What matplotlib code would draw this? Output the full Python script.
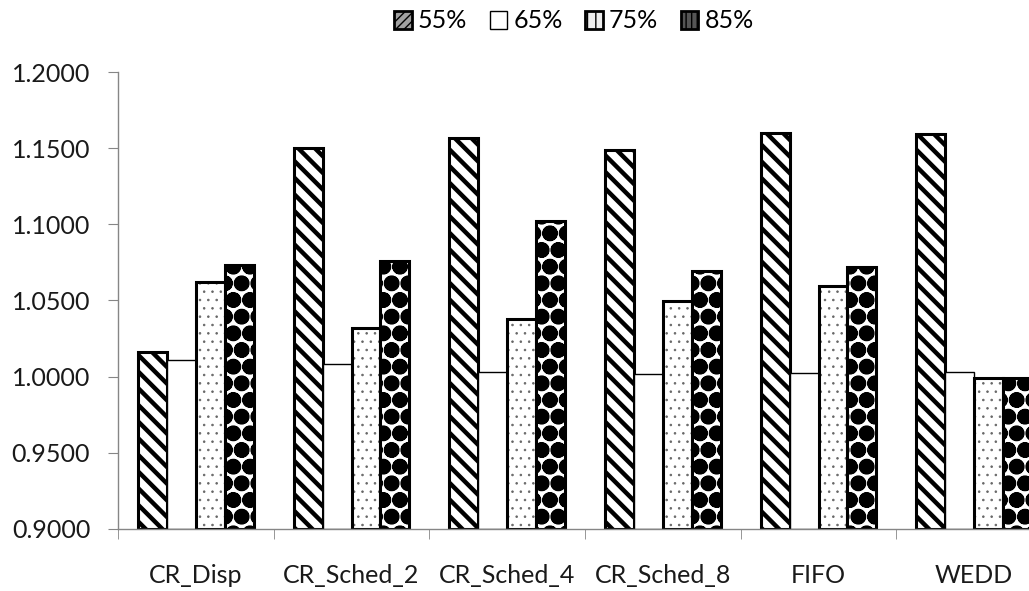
import numpy as np
import matplotlib
matplotlib.use('Agg')
import matplotlib.pyplot as plt
from matplotlib.patches import Patch

categories = ['CR_Disp', 'CR_Sched_2', 'CR_Sched_4', 'CR_Sched_8', 'FIFO', 'WEDD']
series = ['55%', '65%', '75%', '85%']
v55 = [1.0162, 1.1499, 1.1565, 1.1489, 1.1598, 1.1590]
v65 = [1.0109, 1.0081, 1.0033, 1.0016, 1.0026, 1.0033]
v75 = [1.0621, 1.0317, 1.0378, 1.0500, 1.0595, 0.9990]
v85 = [1.0733, 1.0760, 1.1020, 1.0695, 1.0722, 0.9990]

plt.rcParams['font.family'] = ['Lato', 'DejaVu Sans']

fig = plt.figure(figsize=(10.29, 5.91), dpi=100)
ax = fig.add_axes([118 / 1029, 62 / 591, 934 / 1029, 457 / 591])

x = np.arange(len(categories))
w = 0.186
base = 0.9
offs = [-1.5 * w, -0.5 * w, 0.5 * w, 1.5 * w]


def hatched(vals, off, hatch, hcolor, hlw):
    with plt.rc_context({'hatch.linewidth': hlw}):
        bars = ax.bar(x + off, np.array(vals) - base, w, bottom=base,
                      color='white', edgecolor=hcolor, hatch=hatch, linewidth=0)
    for b in bars:
        if hasattr(b, 'set_hatch_linewidth'):
            b.set_hatch_linewidth(hlw)
    return bars


# 55%: thick diagonal stripes
hatched(v55, offs[0], '\\\\', 'black', 3.2)
ax.bar(x + offs[0], np.array(v55) - base, w, bottom=base, fill=False,
       edgecolor='black', linewidth=2.2)

# 65%: plain white
ax.bar(x + offs[1], np.array(v65) - base, w, bottom=base, color='white',
       edgecolor='black', linewidth=1.0)

# 75%: small grey dots
hatched(v75, offs[2], '..', '#666666', 0.6)
ax.bar(x + offs[2], np.array(v75) - base, w, bottom=base, fill=False,
       edgecolor='black', linewidth=2.2)

# 85%: black blobs
hatched(v85, offs[3], 'O.', 'black', 3.0)
ax.bar(x + offs[3], np.array(v85) - base, w, bottom=base, fill=False,
       edgecolor='black', linewidth=2.2)

ax.set_xlim(-0.5, len(categories) - 0.5)
ax.set_ylim(0.9, 1.2)
ax.set_yticks(np.arange(0.9, 1.2001, 0.05))
ax.yaxis.set_major_formatter(plt.FuncFormatter(lambda v, p: f'{v:.4f}'))
ax.set_xticks(x)
ax.set_xticklabels(categories)
ax.set_xticks(np.arange(-0.5, len(categories)), minor=True)

for s in ['top', 'right']:
    ax.spines[s].set_visible(False)
for s in ['left', 'bottom']:
    ax.spines[s].set_color('#868686')
    ax.spines[s].set_linewidth(1.0)

ax.tick_params(axis='y', length=7, color='#868686', pad=13, labelsize=18,
               labelcolor='#1a1a1a')
ax.tick_params(axis='x', which='major', length=0, pad=25, labelsize=18,
               labelcolor='#1a1a1a')
ax.tick_params(axis='x', which='minor', length=7, color='#868686')

handles = [
    Patch(facecolor='#a0a0a0', edgecolor='black', linewidth=2, hatch='////'),
    Patch(facecolor='white', edgecolor='black', linewidth=1),
    Patch(facecolor='#eeeeee', edgecolor='black', linewidth=2, hatch='||'),
    Patch(facecolor='#555555', edgecolor='black', linewidth=2, hatch='|||'),
]
fig.legend(handles, series, loc='center', bbox_to_anchor=(574 / 1029, 1 - 21 / 591),
           ncol=4, frameon=False, fontsize=18, handlelength=0.7, handleheight=0.7,
           handletextpad=0.25, columnspacing=0.9)

plt.savefig('out.png', dpi=100)
